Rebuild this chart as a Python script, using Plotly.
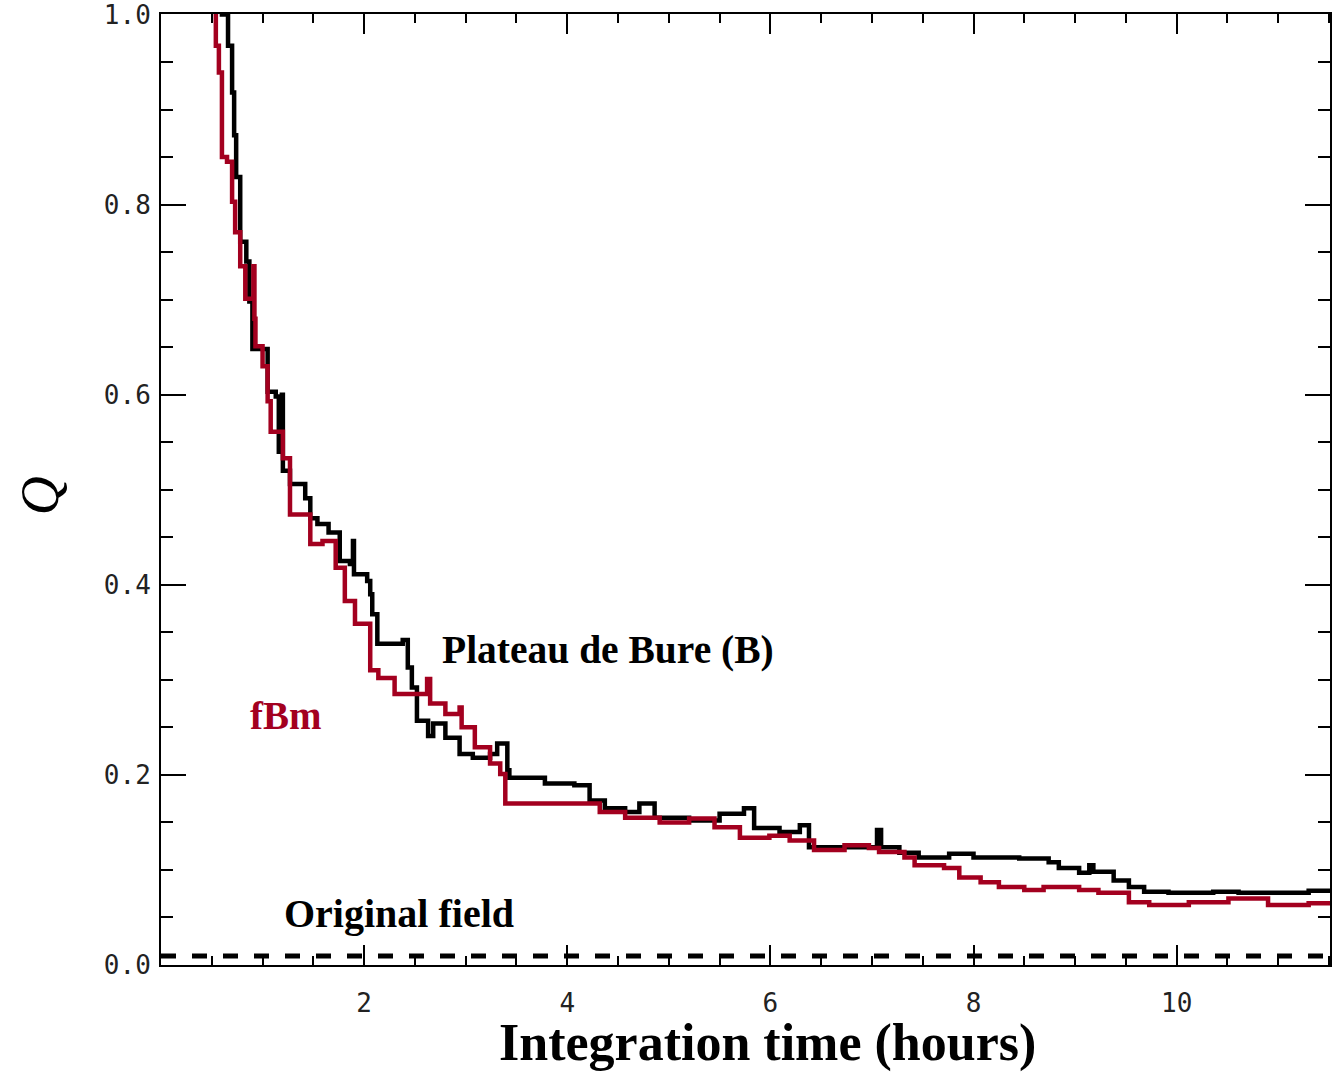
import plotly.graph_objects as go

# ---- data ----
pdb_x = [0.58, 0.60, 0.66, 0.70, 0.72, 0.74, 0.78, 0.84, 0.87, 0.90, 1.05, 1.13, 1.16, 1.19, 1.20,
         1.27, 1.42, 1.47, 1.54, 1.65, 1.76, 1.86, 1.89, 1.90, 2.03, 2.06, 2.08, 2.13, 2.38, 2.43,
         2.47, 2.52, 2.63, 2.68, 2.80, 2.94, 3.07, 3.24, 3.31, 3.41, 3.43, 3.78, 4.07, 4.22, 4.37,
         4.57, 4.71, 4.86, 5.20, 5.50, 5.74, 5.84, 6.09, 6.29, 6.38, 6.97, 7.05, 7.09, 7.27, 7.46,
         7.76, 8.00, 8.45, 8.74, 8.84, 9.04, 9.14, 9.18, 9.38, 9.53, 9.68, 9.92, 10.36, 10.61,
         11.30, 11.52]
pdb_q = [1.03, 1.000, 0.967, 0.918, 0.873, 0.829, 0.761, 0.740, 0.698, 0.648, 0.603, 0.598, 0.540,
         0.600, 0.520, 0.506, 0.491, 0.470, 0.464, 0.455, 0.425, 0.422, 0.446, 0.411, 0.404, 0.390,
         0.369, 0.338, 0.342, 0.313, 0.292, 0.257, 0.241, 0.254, 0.239, 0.222, 0.218, 0.222, 0.233,
         0.205, 0.197, 0.191, 0.189, 0.173, 0.165, 0.161, 0.170, 0.155, 0.152, 0.159, 0.165, 0.144,
         0.140, 0.147, 0.124, 0.124, 0.142, 0.124, 0.118, 0.113, 0.117, 0.113, 0.112, 0.108, 0.102,
         0.097, 0.105, 0.098, 0.089, 0.082, 0.077, 0.076, 0.077, 0.076, 0.078, 0.078]

fbm_x = [0.50, 0.54, 0.57, 0.60, 0.65, 0.70, 0.73, 0.78, 0.83, 0.91, 0.92, 0.93, 1.00, 1.05, 1.08,
         1.20, 1.27, 1.47, 1.59, 1.72, 1.81, 1.91, 2.06, 2.14, 2.30, 2.62, 2.65, 2.80, 2.94, 2.96,
         3.09, 3.24, 3.34, 3.39, 4.32, 4.57, 4.91, 5.20, 5.45, 5.70, 5.99, 6.19, 6.43, 6.73, 6.97,
         7.07, 7.32, 7.42, 7.71, 7.86, 8.07, 8.25, 8.50, 8.69, 9.04, 9.23, 9.53, 9.73, 10.12, 10.51,
         10.90, 11.30, 11.52]
fbm_q = [1.03, 0.967, 0.939, 0.850, 0.845, 0.803, 0.771, 0.735, 0.701, 0.735, 0.680, 0.651, 0.630,
         0.593, 0.561, 0.533, 0.474, 0.443, 0.446, 0.418, 0.383, 0.359, 0.310, 0.302, 0.285, 0.301,
         0.275, 0.264, 0.271, 0.250, 0.229, 0.212, 0.201, 0.170, 0.161, 0.155, 0.150, 0.154, 0.145,
         0.134, 0.136, 0.131, 0.121, 0.126, 0.123, 0.119, 0.113, 0.105, 0.102, 0.092, 0.087, 0.082,
         0.079, 0.082, 0.079, 0.076, 0.066, 0.063, 0.066, 0.070, 0.063, 0.065, 0.065]

orig_x = [0.0, 11.6]
orig_q = [0.0094, 0.0094]

x_ticks = [2, 4, 6, 8, 10]
x_ticklabels = ["2", "4", "6", "8", "10"]
y_ticks = [0.0, 0.2, 0.4, 0.6, 0.8, 1.0]
y_ticklabels = ["0.0", "0.2", "0.4", "0.6", "0.8", "1.0"]

RED = "#A3001F"

fig = go.Figure()
fig.add_trace(go.Scatter(x=orig_x, y=orig_q, mode="lines",
                         line=dict(color="black", width=5, dash="15px,16px"),
                         showlegend=False, hoverinfo="skip"))
fig.add_trace(go.Scatter(x=pdb_x, y=pdb_q, mode="lines", line_shape="hv",
                         line=dict(color="black", width=4.5), showlegend=False))
fig.add_trace(go.Scatter(x=fbm_x, y=fbm_q, mode="lines", line_shape="hv",
                         line=dict(color=RED, width=4.5), showlegend=False))

tickfont = dict(family="DejaVu Sans Mono", size=26, color="#222")

fig.update_xaxes(range=[0, 11.51], showline=True, linecolor="black", linewidth=2,
                 mirror="allticks", ticks="inside", ticklen=20, tickwidth=2, tickcolor="black",
                 tickvals=x_ticks, ticktext=x_ticklabels, tickfont=tickfont,
                 ticklabelstandoff=14, ticklabeloverflow="allow",
                 minor=dict(dtick=0.5, tick0=0, ticks="inside", ticklen=9, tickwidth=2,
                            tickcolor="black", showgrid=False),
                 showgrid=False, zeroline=False)
fig.update_yaxes(range=[0, 1.0005], showline=True, linecolor="black", linewidth=2,
                 mirror="allticks", ticks="inside", ticklen=25, tickwidth=2, tickcolor="black",
                 tickvals=y_ticks, ticktext=y_ticklabels, tickfont=tickfont,
                 ticklabelstandoff=3, ticklabeloverflow="allow",
                 minor=dict(dtick=0.05, tick0=0, ticks="inside", ticklen=12, tickwidth=2,
                            tickcolor="black", showgrid=False),
                 showgrid=False, zeroline=False)

fig.add_annotation(x=2.747, y=0.331, xref="x", yref="y", text="<b>Plateau de Bure (B)</b>",
                   showarrow=False, xanchor="left", yanchor="middle",
                   font=dict(family="Liberation Serif", size=39.5, color="black"))
fig.add_annotation(x=0.86, y=0.262, xref="x", yref="y", text="<b>fBm</b>",
                   showarrow=False, xanchor="left", yanchor="middle",
                   font=dict(family="Liberation Serif", size=39, color=RED))
fig.add_annotation(x=1.19, y=0.0546, xref="x", yref="y", text="<b>Original field</b>",
                   showarrow=False, xanchor="left", yanchor="middle",
                   font=dict(family="Liberation Serif", size=40, color="black"))

# axis titles
fig.add_annotation(x=769, y=1043, xref="paper", yref="paper", text="<b>Integration time (hours)</b>",
                   showarrow=False, xanchor="center", yanchor="middle",
                   font=dict(family="Liberation Serif", size=52, color="black"))
fig.add_annotation(x=40, y=495, xref="paper", yref="paper", text="<i>Q</i>",
                   showarrow=False, xanchor="center", yanchor="middle", textangle=-90,
                   font=dict(family="Liberation Serif", size=54, color="black"))

W, H = 1332, 1073
ML, MR, MT, MB = 161, 0, 12, 108
pw, ph = W - ML - MR, H - MT - MB
# convert the two title annotations from pixel positions into paper coordinates
for ann in fig.layout.annotations[-2:]:
    ann.x = (ann.x - ML) / pw
    ann.y = (H - MB - ann.y) / ph

fig.update_layout(width=W, height=H, margin=dict(l=ML, r=MR, t=MT, b=MB),
                  plot_bgcolor="white", paper_bgcolor="white")

fig.write_html("out.html")
